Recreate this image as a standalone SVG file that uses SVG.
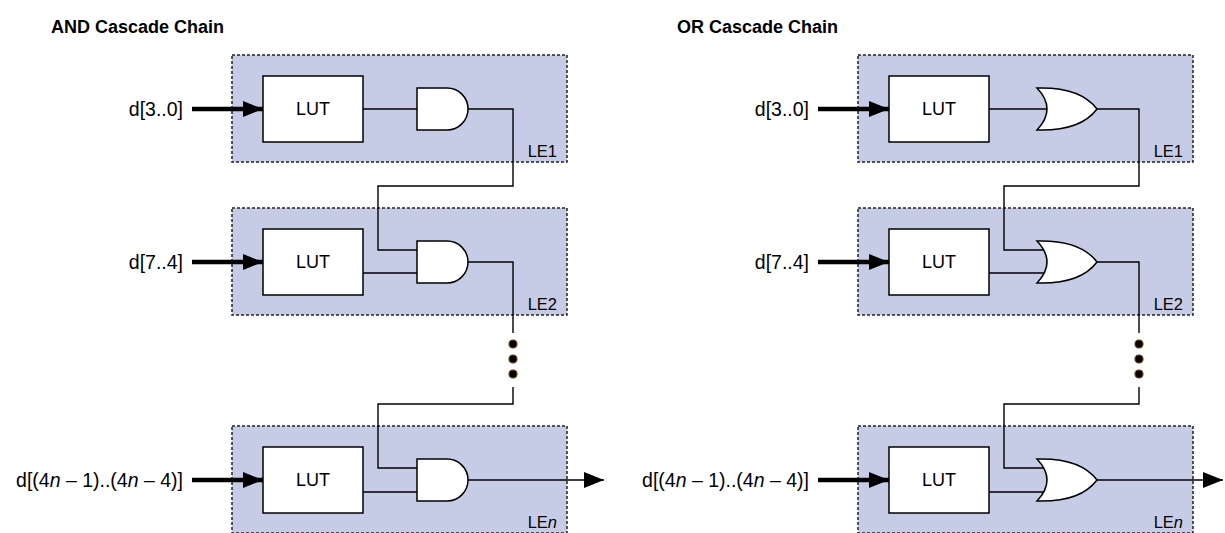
<svg xmlns="http://www.w3.org/2000/svg" width="1225" height="533" viewBox="0 0 1225 533">
<defs>
<style>
.box{fill:#c7cce6;stroke:#222;stroke-width:1.5;stroke-dasharray:3,2}
.lut{fill:#fff;stroke:#000;stroke-width:1.5}
.gate{fill:#fff;stroke:#000;stroke-width:1.5}
.wire{fill:none;stroke:#000;stroke-width:1.4}
.in{fill:none;stroke:#000;stroke-width:4.5}
.t{font-family:"Liberation Sans",Arial,sans-serif;font-size:18px;fill:#000}
.d{font-family:"Liberation Sans",Arial,sans-serif;font-size:19.5px;fill:#000;text-anchor:end}
.le{font-family:"Liberation Sans",Arial,sans-serif;font-size:16.5px;fill:#000;text-anchor:end}
.title{font-family:"Liberation Sans",Arial,sans-serif;font-size:18px;font-weight:bold;fill:#000}
.dot{fill:#000;stroke:#6b3a00;stroke-width:1.2}
</style>
<marker id="ah" viewBox="0 0 20 16" refX="20" refY="8" markerWidth="20" markerHeight="16" markerUnits="userSpaceOnUse" orient="auto">
<path d="M0,0 L20,8 L0,16 Z" fill="#000"/>
</marker>
</defs>

<text class="title" x="51" y="33">AND Cascade Chain</text>
<text class="title" x="677" y="33">OR Cascade Chain</text>

<!-- AND chain -->
<g id="and-le1">
<rect class="box" x="232" y="55" width="335" height="107"/>
<rect class="lut" x="263" y="76" width="100" height="66"/>
<text class="t" x="313" y="115" text-anchor="middle">LUT</text>
<path class="gate" d="M417,88 H447 A21,21 0 0 1 447,130 H417 Z"/>
<text class="le" x="557" y="157">LE1</text>
</g>
<g id="and-le2">
<rect class="box" x="232" y="208" width="335" height="107"/>
<rect class="lut" x="263" y="229" width="100" height="66"/>
<text class="t" x="313" y="268" text-anchor="middle">LUT</text>
<path class="gate" d="M417,241 H447 A21,21 0 0 1 447,283 H417 Z"/>
<text class="le" x="557" y="310">LE2</text>
</g>
<g id="and-len">
<rect class="box" x="232" y="426" width="335" height="107"/>
<rect class="lut" x="263" y="447" width="100" height="66"/>
<text class="t" x="313" y="486" text-anchor="middle">LUT</text>
<path class="gate" d="M417,459 H447 A21,21 0 0 1 447,501 H417 Z"/>
<text class="le" x="557" y="528">LE<tspan font-style="italic">n</tspan></text>
</g>
<g id="and-inputs">
<text class="d" x="183" y="116">d[3..0]</text>
<text class="d" x="183" y="269">d[7..4]</text>
<text class="d" x="183" y="487">d[(4<tspan font-style="italic">n</tspan> – 1)..(4<tspan font-style="italic">n</tspan> – 4)]</text>
</g>
<g id="and-dots">
<circle class="dot" cx="513" cy="344" r="4"/>
<circle class="dot" cx="513" cy="359" r="4"/>
<circle class="dot" cx="513" cy="374" r="4"/>
</g>

<!-- OR chain -->
<g id="or-le1">
<rect class="box" x="858" y="55" width="335" height="107"/>
<rect class="lut" x="889" y="76" width="100" height="66"/>
<text class="t" x="939" y="115" text-anchor="middle">LUT</text>
<path class="gate" d="M1037,88 C1070,87 1088,97 1097,109 C1088,121 1070,131 1037,130 Q1057,109 1037,88 Z"/>
<text class="le" x="1183" y="157">LE1</text>
</g>
<g id="or-le2">
<rect class="box" x="858" y="208" width="335" height="107"/>
<rect class="lut" x="889" y="229" width="100" height="66"/>
<text class="t" x="939" y="268" text-anchor="middle">LUT</text>
<path class="gate" d="M1037,241 C1070,240 1088,250 1097,262 C1088,274 1070,284 1037,283 Q1057,262 1037,241 Z"/>
<text class="le" x="1183" y="310">LE2</text>
</g>
<g id="or-len">
<rect class="box" x="858" y="426" width="335" height="107"/>
<rect class="lut" x="889" y="447" width="100" height="66"/>
<text class="t" x="939" y="486" text-anchor="middle">LUT</text>
<path class="gate" d="M1037,459 C1070,458 1088,468 1097,480 C1088,492 1070,502 1037,501 Q1057,480 1037,459 Z"/>
<text class="le" x="1183" y="528">LE<tspan font-style="italic">n</tspan></text>
</g>
<g id="or-inputs">
<text class="d" x="809" y="116">d[3..0]</text>
<text class="d" x="809" y="269">d[7..4]</text>
<text class="d" x="809" y="487">d[(4<tspan font-style="italic">n</tspan> – 1)..(4<tspan font-style="italic">n</tspan> – 4)]</text>
</g>
<g id="or-dots">
<circle class="dot" cx="1139" cy="344" r="4"/>
<circle class="dot" cx="1139" cy="359" r="4"/>
<circle class="dot" cx="1139" cy="374" r="4"/>
</g>

<g id="connectors">
<!-- AND -->
<line class="in" x1="192" y1="109" x2="263" y2="109" marker-end="url(#ah)"/>
<line class="in" x1="192" y1="262" x2="263" y2="262" marker-end="url(#ah)"/>
<line class="in" x1="192" y1="480" x2="263" y2="480" marker-end="url(#ah)"/>
<path class="wire" d="M363,109 H417"/>
<path class="wire" d="M363,273 H417"/>
<path class="wire" d="M363,492 H417"/>
<path class="wire" d="M468,109 H513 V186 H378 V250 H417"/>
<path class="wire" d="M468,262 H513 V333"/>
<path class="wire" d="M513,387 V404 H378 V468 H417"/>
<path class="wire" d="M468,480 H604" marker-end="url(#ah)"/>
<!-- OR -->
<line class="in" x1="818" y1="109" x2="889" y2="109" marker-end="url(#ah)"/>
<line class="in" x1="818" y1="262" x2="889" y2="262" marker-end="url(#ah)"/>
<line class="in" x1="818" y1="480" x2="889" y2="480" marker-end="url(#ah)"/>
<path class="wire" d="M989,109 H1047"/>
<path class="wire" d="M989,273 H1044"/>
<path class="wire" d="M989,492 H1044"/>
<path class="wire" d="M1097,109 H1139 V186 H1004 V250 H1044"/>
<path class="wire" d="M1097,262 H1139 V333"/>
<path class="wire" d="M1139,387 V404 H1004 V468 H1044"/>
<path class="wire" d="M1097,480 H1223" marker-end="url(#ah)"/>
</g>
</svg>
